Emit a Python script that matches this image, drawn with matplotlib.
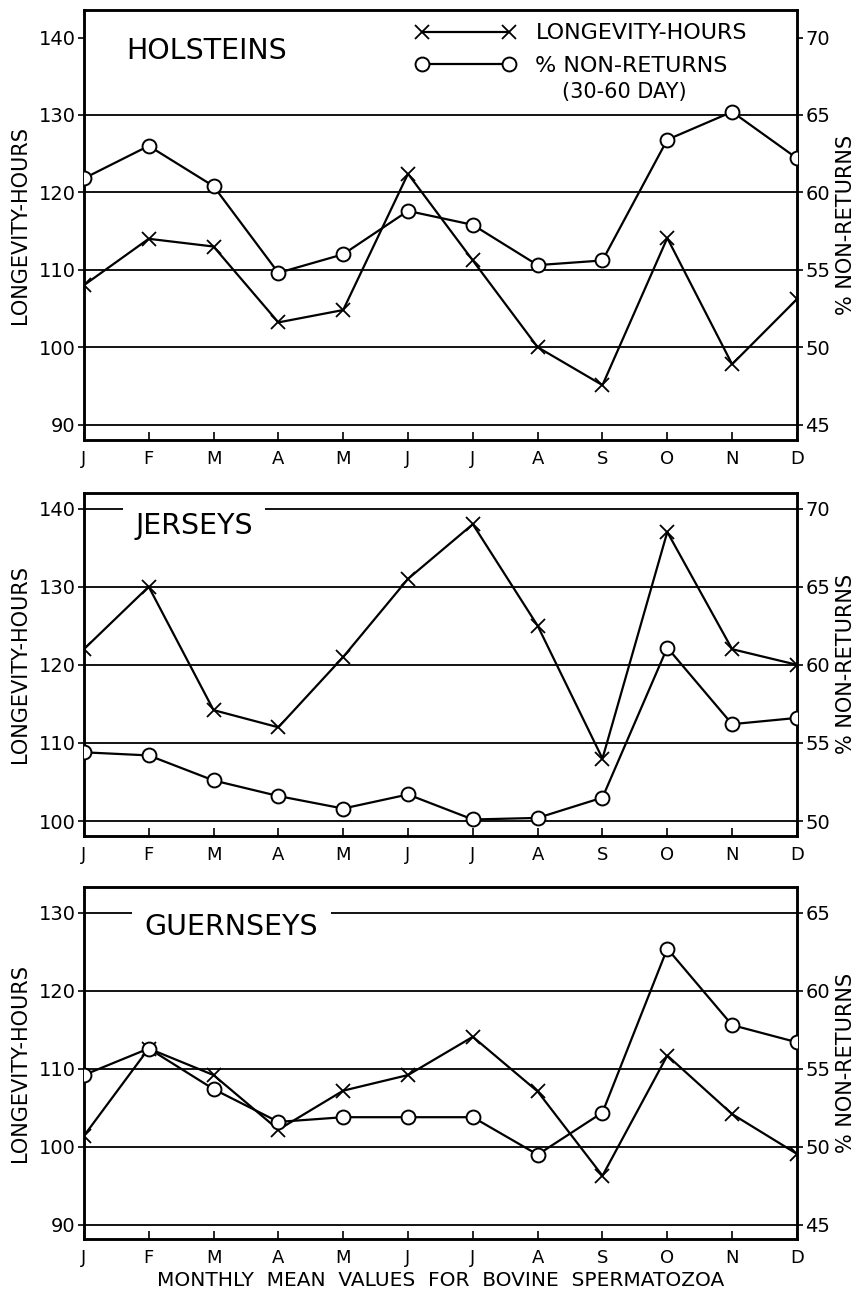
import matplotlib
matplotlib.use("Agg")
import matplotlib.pyplot as plt
from matplotlib.lines import Line2D

plt.rcParams['font.family'] = ['DejaVu Sans']

months = ['J', 'F', 'M', 'A', 'M', 'J', 'J', 'A', 'S', 'O', 'N', 'D']

# longevity in hours (left axis), % non-returns 30-60 day (right axis)
holstein_longevity = [108, 114, 113, 103.2, 104.8, 122.4, 111.2, 100, 95.1, 114.1, 97.8, 106.2]
holstein_nonret = [60.9, 63.0, 60.4, 54.8, 56.0, 58.8, 57.9, 55.3, 55.6, 63.4, 65.2, 62.2]

jersey_longevity = [122, 130, 114.2, 112, 121, 131, 138, 125, 108, 137, 122, 120]
jersey_nonret = [54.4, 54.2, 52.6, 51.6, 50.8, 51.7, 50.1, 50.2, 51.5, 61.1, 56.2, 56.6]

guernsey_longevity = [101.4, 112.6, 109.2, 102.2, 107.2, 109.2, 114.1, 107.1, 96.3, 111.7, 104.2, 99.1]
guernsey_nonret = [54.6, 56.3, 53.7, 51.6, 51.9, 51.9, 51.9, 49.5, 52.2, 62.7, 57.8, 56.7]

LW = 1.6
x_style = dict(color='black', lw=LW, marker='x', markersize=10, markeredgewidth=1.3)
o_style = dict(color='black', lw=LW, marker='o', markersize=10, markerfacecolor='white',
               markeredgewidth=1.4)


def draw_panel(ax, longevity, nonret, title, ylim, left_ticks, grid_vals, right_ticks,
               title_pos, title_gap=False):
    x = list(range(len(months)))
    ax.set_xlim(0, 11)
    ax.set_ylim(*ylim)
    for g in grid_vals:
        ax.axhline(g, color='black', lw=1.3, zorder=1)
    ax.plot(x, longevity, zorder=3, **x_style)
    ax.set_yticks(left_ticks)
    ax.set_yticklabels([str(t) for t in left_ticks])
    ax.set_xticks(x)
    ax.set_xticklabels(months)
    ax.tick_params(axis='x', direction='in', length=6, width=1.2, labelsize=13, pad=7)
    ax.tick_params(axis='y', direction='out', length=4, width=1.2, labelsize=14, pad=2)
    ax.set_ylabel('LONGEVITY-HOURS', fontsize=15, labelpad=6)
    for s in ax.spines.values():
        s.set_linewidth(1.8)

    ax2 = ax.twinx()
    ax2.set_ylim(ylim[0] / 2, ylim[1] / 2)
    ax2.plot(x, nonret, zorder=4, **o_style)
    ax2.set_yticks(right_ticks)
    ax2.tick_params(axis='y', direction='out', length=4, width=1.2, labelsize=14, pad=2)
    ax2.set_ylabel('% NON-RETURNS', fontsize=15, rotation=90, labelpad=4)
    for s in ax2.spines.values():
        s.set_linewidth(1.8)

    bbox = dict(facecolor='white', edgecolor='none', pad=9) if title_gap else None
    ax2.text(title_pos[0], title_pos[1], title, transform=ax.transAxes, fontsize=20.5,
             ha='left', va='center', bbox=bbox, zorder=2)
    return ax2


fig = plt.figure(figsize=(8.56, 13.02), dpi=100)

ax_h = fig.add_axes([0.098, 0.662, 0.833, 0.330])
ax_j = fig.add_axes([0.098, 0.358, 0.833, 0.2634])
ax_g = fig.add_axes([0.098, 0.0484, 0.833, 0.2704])

h2 = draw_panel(ax_h, holstein_longevity, holstein_nonret, 'HOLSTEINS', (88.0, 143.5),
                [90, 100, 110, 120, 130, 140], [90, 100, 110, 120, 130],
                [45, 50, 55, 60, 65, 70], (0.06, 0.905))
draw_panel(ax_j, jersey_longevity, jersey_nonret, 'JERSEYS', (98.1, 142.0),
           [100, 110, 120, 130, 140], [100, 110, 120, 130, 140],
           [50, 55, 60, 65, 70], (0.072, 0.905), title_gap=True)
draw_panel(ax_g, guernsey_longevity, guernsey_nonret, 'GUERNSEYS', (88.2, 133.3),
           [90, 100, 110, 120, 130], [90, 100, 110, 120, 130],
           [45, 50, 55, 60, 65], (0.085, 0.885), title_gap=True)

ax_g.set_xlabel('MONTHLY  MEAN  VALUES  FOR  BOVINE  SPERMATOZOA', fontsize=14.5, labelpad=3)

# legend in the top panel
handles = [Line2D([], [], **x_style), Line2D([], [], **o_style)]
leg = h2.legend(handles, ['LONGEVITY-HOURS', '% NON-RETURNS'], numpoints=2,
                loc='upper left', bbox_to_anchor=(0.465, 0.97), frameon=False,
                handlelength=4.5, handletextpad=0.9, labelspacing=0.55, fontsize=16,
                borderpad=0, borderaxespad=0)
h2.text(0.758, 0.81, '(30-60 DAY)', transform=ax_h.transAxes, fontsize=15,
        ha='center', va='center')

fig.savefig('out.png', dpi=100)
